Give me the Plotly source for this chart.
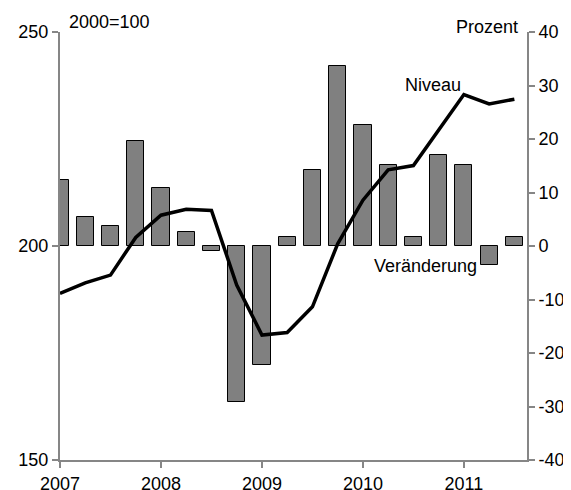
import plotly.graph_objects as go

# Quartale 2007 Q1 bis 2011 Q3
quartale = [2007 + i * 0.25 for i in range(19)]

# Niveau (2000=100), linke Achse
niveau = [188.9, 191.4, 193.2, 202.0, 207.2, 208.6, 208.3, 190.9, 179.2, 179.8,
          185.8, 200.5, 210.7, 217.8, 218.8, 227.1, 235.4, 233.2, 234.3]

# Veränderung in Prozent, rechte Achse
veraenderung = [12.3, 5.4, 3.7, 19.6, 10.8, 2.7, -0.9, -29.2, -22.2, 1.6,
                14.2, 33.7, 22.6, 15.1, 1.6, 17.0, 15.1, -3.6, 1.6]

jahre = [2007, 2008, 2009, 2010, 2011]
prozent_ticks = [-40, -30, -20, -10, 0, 10, 20, 30, 40]
niveau_ticks = [150, 200, 250]

schrift = dict(family="Liberation Sans, Arial", size=18, color="#000000")
achse = "#868686"

fig = go.Figure()

fig.add_trace(go.Bar(
    x=quartale,
    y=veraenderung,
    width=0.17,
    marker=dict(color="#808080", line=dict(color="#000000", width=1)),
    yaxis="y",
))

fig.add_trace(go.Scatter(
    x=quartale,
    y=niveau,
    mode="lines",
    line=dict(color="#000000", width=3.5),
    yaxis="y2",
))

gemeinsam = dict(
    showgrid=False,
    zeroline=False,
    showline=True,
    linecolor=achse,
    linewidth=2,
    ticks="outside",
    ticklen=6,
    tickcolor=achse,
    tickwidth=2,
    tickfont=schrift,
    automargin=False,
)

# die Seite hat 8px Rand, daher etwas kleiner
fig.update_layout(
    width=563,
    height=482,
    showlegend=False,
    plot_bgcolor="#ffffff",
    paper_bgcolor="#ffffff",
    font=schrift,
    margin=dict(l=52, r=44, t=24, b=30),
    xaxis=dict(
        range=[2007, 2011.625],
        tickvals=jahre,
        ticktext=[str(j) for j in jahre],
        **gemeinsam,
    ),
    # Balken: Prozent, rechts
    yaxis=dict(
        side="right",
        range=[-40, 40],
        tickvals=prozent_ticks,
        ticktext=[str(v) for v in prozent_ticks],
        **gemeinsam,
    ),
    # Linie: Niveau, links
    yaxis2=dict(
        side="left",
        overlaying="y",
        range=[150, 250],
        tickvals=niveau_ticks,
        ticktext=[str(v) for v in niveau_ticks],
        **gemeinsam,
    ),
    bargap=0,
)

fig.add_annotation(text="2000=100", xref="paper", yref="paper", x=0.015, y=1.023,
                   xanchor="left", yanchor="middle", showarrow=False, font=schrift)
fig.add_annotation(text="Prozent", xref="paper", yref="paper", x=0.985, y=1.012,
                   xanchor="right", yanchor="middle", showarrow=False, font=schrift)
fig.add_annotation(text="Niveau", xref="paper", yref="paper", x=0.734, y=0.876,
                   xanchor="left", yanchor="middle", showarrow=False, font=schrift)
fig.add_annotation(text="Veränderung", xref="paper", yref="paper", x=0.668, y=0.453,
                   xanchor="left", yanchor="middle", showarrow=False, font=schrift)

fig.write_html("out.html")
